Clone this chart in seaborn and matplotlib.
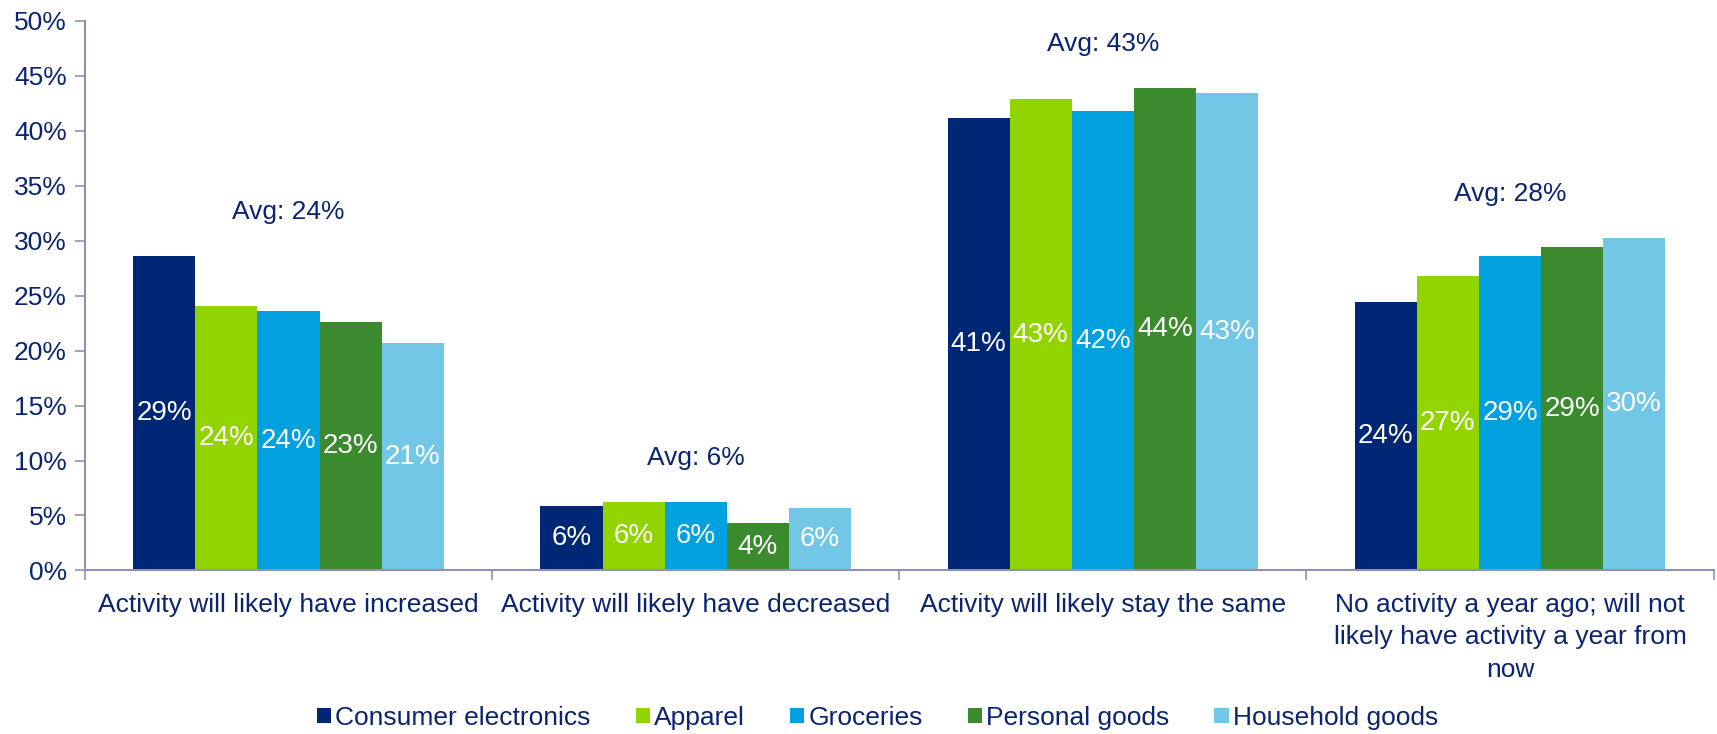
import matplotlib
matplotlib.use("Agg")
import matplotlib.pyplot as plt
import seaborn as sns
import pandas as pd

categories = [
    "Activity will likely have increased",
    "Activity will likely have decreased",
    "Activity will likely stay the same",
    "No activity a year ago; will not\nlikely have activity a year from\nnow",
]
products = ["Consumer electronics", "Apparel", "Groceries", "Personal goods", "Household goods"]
consumer_electronics = [28.6, 5.9, 41.2, 24.4]
apparel = [24.1, 6.2, 42.9, 26.8]
groceries = [23.6, 6.2, 41.8, 28.6]
personal_goods = [22.6, 4.3, 43.9, 29.4]
household_goods = [20.7, 5.7, 43.4, 30.2]
averages = [24, 6, 43, 28]
yticks = [0, 5, 10, 15, 20, 25, 30, 35, 40, 45, 50]

colors = ["#002776", "#92D400", "#00A1DE", "#3C8A2E", "#72C7E7"]
navy = "#0A2472"
spine_c = "#8E92B0"

series = [consumer_electronics, apparel, groceries, personal_goods, household_goods]
rows = []
for p, vals in zip(products, series):
    for c, v in zip(categories, vals):
        rows.append({"category": c, "product": p, "value": v})
df = pd.DataFrame(rows)

sns.set_theme(style="white")
plt.rcParams["font.family"] = ["Liberation Sans", "DejaVu Sans"]
FS = 19

fig = plt.figure(figsize=(17.17, 7.34), dpi=100)
ax = fig.add_axes([0.0495, 0.2228, 0.9485, 0.7489])

sns.barplot(data=df, x="category", y="value", hue="product", order=categories,
            hue_order=products, palette=colors, width=0.763, gap=0,
            saturation=1, ax=ax, linewidth=0)

for cont in ax.containers:
    ax.bar_label(cont, fmt=lambda v: f"{v:.0f}%", label_type="center",
                 color="white", fontsize=20)

for i, (avg, vals) in enumerate(zip(averages, zip(*series))):
    ax.text(i, max(vals) + 4, f"Avg: {avg}%", ha="center", va="center",
            color=navy, fontsize=FS)

ax.set_ylim(0, 50)
ax.set_xlim(-0.5, len(categories) - 0.5)
ax.set_yticks(yticks)
ax.set_yticklabels([f"{t}%" for t in yticks], fontsize=FS, color=navy)
ax.set_xticks([i - 0.5 for i in range(len(categories) + 1)])
ax.set_xticklabels([""] * (len(categories) + 1))
ax.set_xticks(range(len(categories)), categories, minor=True)
ax.tick_params(axis="x", which="major", length=7, width=1.2, color=spine_c,
               direction="out", bottom=True)
ax.tick_params(axis="x", which="minor", length=0, pad=16, labelsize=FS,
               labelcolor=navy)
for t in ax.get_xticklabels(minor=True):
    t.set_linespacing(1.45)
ax.tick_params(axis="y", length=7, width=1.2, color=spine_c, direction="out",
               left=True, pad=6)
ax.set_xlabel("")
ax.set_ylabel("")
for s in ["top", "right"]:
    ax.spines[s].set_visible(False)
for s in ["left", "bottom"]:
    ax.spines[s].set_color(spine_c)
    ax.spines[s].set_linewidth(1.5)

handles, labels = ax.get_legend_handles_labels()
ax.get_legend().remove()
leg = fig.legend(handles, labels, loc="center", bbox_to_anchor=(0.511, 0.022),
                 ncol=5, frameon=False, fontsize=FS, handlelength=0.55,
                 handleheight=0.55, handletextpad=0.15, columnspacing=1.7)
for t in leg.get_texts():
    t.set_color(navy)

fig.savefig("out.png", dpi=100)
